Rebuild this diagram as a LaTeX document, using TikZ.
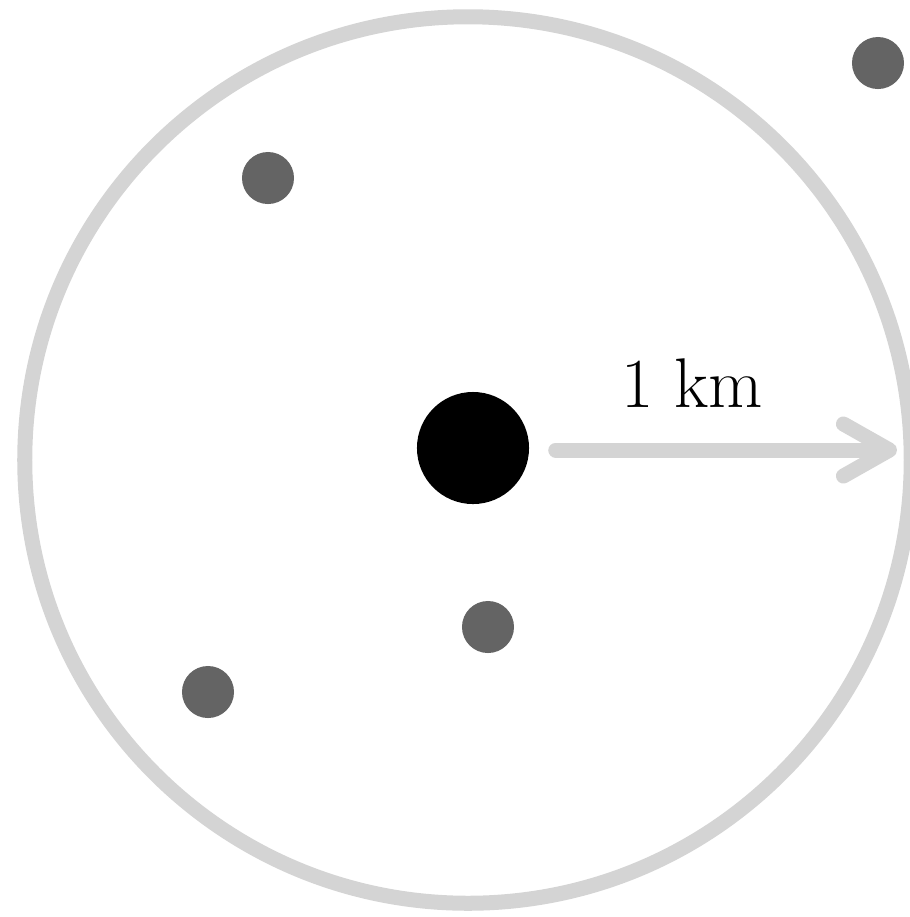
\documentclass[tikz,border=0pt]{standalone}
\usepackage{fontspec}
\usetikzlibrary{arrows.meta}

\definecolor{ringgray}{RGB}{212,212,212}
\definecolor{dotgray}{RGB}{100,100,100}

\tikzset{
    ring/.style={draw=ringgray, line width=0.15cm, circle, minimum size=8.86cm, inner sep=0pt},
    hub/.style={circle, fill=black, minimum size=1.12cm, inner sep=0pt},
    site/.style={circle, fill=dotgray, minimum size=0.52cm, inner sep=0pt},
    radiuslink/.style={draw=ringgray, line width=0.15cm, line cap=round,
        -{Straight Barb[length=0.46cm, width=0.52cm, round]}},
    label/.style={font=\fontsize{20}{24}\selectfont, inner sep=0pt}
}

\begin{document}
\begin{tikzpicture}[x=0.01cm, y=-0.01cm]
    \useasboundingbox (0,0) rectangle (910,917);
    \node[ring] (range) at (468,460) {};
    \node[hub] (city) at (473,448) {};
    \node[site] (siteA) at (878,63) {};
    \node[site] (siteB) at (268,178) {};
    \node[site] (siteC) at (488,627) {};
    \node[site] (siteD) at (208,692) {};
    % radius arrow out to the ring
    \coordinate (rim) at (897,450);
    \draw[radiuslink, shorten <=0.26cm] (city.east |- rim) -- (rim);
    \node[label] (dist) at (692,383) {1 km};
\end{tikzpicture}
\end{document}
